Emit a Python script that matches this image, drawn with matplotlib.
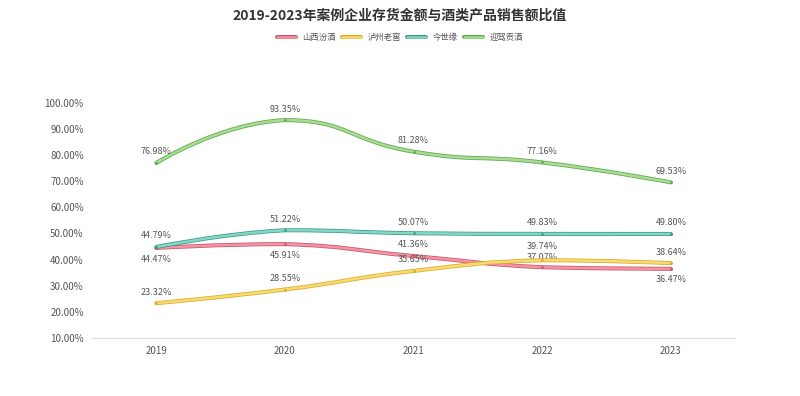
import numpy as np
import matplotlib
matplotlib.use("Agg")
import matplotlib.pyplot as plt
from matplotlib.path import Path
from matplotlib.patches import PathPatch
from matplotlib.lines import Line2D
import matplotlib.patheffects as pe

plt.rcParams['font.family'] = ['Noto Sans CJK SC', 'DejaVu Sans']

# data
years = ["2019", "2020", "2021", "2022", "2023"]
fenjiu = [44.47, 45.91, 41.36, 37.07, 36.47]       # 山西汾酒
laojiao = [23.32, 28.55, 35.65, 39.74, 38.64]      # 泸州老窖
jinshiyuan = [44.79, 51.22, 50.07, 49.83, 49.80]   # 今世缘
yingjia = [76.98, 93.35, 81.28, 77.16, 69.53]      # 迎驾贡酒
names = ["山西汾酒", "泸州老窖", "今世缘", "迎驾贡酒"]
yticks = [10, 20, 30, 40, 50, 60, 70, 80, 90, 100]

series = [fenjiu, laojiao, jinshiyuan, yingjia]
fills = ["#f294a3", "#f7da70", "#86d6c6", "#a8dc95"]
edges = ["#c9566c", "#d9ad2a", "#3a9c88", "#5fa84c"]
# label offset in points relative to the point (+ above, - below)
label_off = [
    [-8, -8, 8, 7, -8],
    [8, 8, 8, 10, 8],
    [8, 8, 8, 8, 8],
    [8, 8, 8, 8, 8],
]

fig = plt.figure(figsize=(8, 3.96), dpi=100)
ax = fig.add_axes([0.115, 0.1465, 0.804, 0.594])
x = np.arange(len(years))
ax.set_xlim(-0.5, len(years) - 0.5)
ax.set_ylim(10, 100)

# pixel scale used for echarts-like smoothing
sx, sy = 128.75, 2.61


def smooth_path(xs, ys, smooth=0.5):
    pts = np.column_stack([xs, ys]).astype(float)
    n = len(pts)
    scaled = pts * [sx, sy]
    verts = [tuple(pts[0])]
    codes = [Path.MOVETO]
    cps = []
    for i in range(n):
        if i == 0 or i == n - 1:
            cps.append((pts[i], pts[i]))
            continue
        v = (scaled[i + 1] - scaled[i - 1]) * smooth
        d0 = np.hypot(*(scaled[i] - scaled[i - 1]))
        d1 = np.hypot(*(scaled[i + 1] - scaled[i]))
        c0 = (scaled[i] - v * d0 / (d0 + d1)) / [sx, sy]
        c1 = (scaled[i] + v * d1 / (d0 + d1)) / [sx, sy]
        lo0, hi0 = sorted([pts[i - 1][1], pts[i][1]])
        lo1, hi1 = sorted([pts[i][1], pts[i + 1][1]])
        c0[1] = min(max(c0[1], lo0), hi0)
        c1[1] = min(max(c1[1], lo1), hi1)
        cps.append((c0, c1))
    for i in range(n - 1):
        verts += [tuple(cps[i][1]), tuple(cps[i + 1][0]), tuple(pts[i + 1])]
        codes += [Path.CURVE4] * 3
    return Path(verts, codes)


for vals, fc, ec, offs in zip(series, fills, edges, label_off):
    patch = PathPatch(smooth_path(x, vals), facecolor="none", edgecolor=fc,
                      lw=1.8, capstyle="round", zorder=3,
                      path_effects=[pe.Stroke(linewidth=2.9, foreground=ec), pe.Normal()])
    ax.add_patch(patch)
    ax.scatter(x, vals, s=4, color=ec, zorder=4, linewidths=0)
    for xi, v, off in zip(x, vals, offs):
        ax.annotate(f"{v:.2f}%", (xi, v), xytext=(0, off), textcoords="offset points",
                    ha="center", va="center", fontsize=6.5, color="#555555")

ax.set_xticks(x)
ax.set_xticklabels(years)
ax.set_yticks(yticks)
ax.set_yticklabels([f"{t:.2f}%" for t in yticks])
ax.tick_params(length=0, labelsize=7, colors="#555555")
ax.tick_params(axis="x", pad=6)
ax.tick_params(axis="y", pad=6)
for s in ["top", "right", "left"]:
    ax.spines[s].set_visible(False)
ax.spines["bottom"].set_color("#dddddd")

fig.text(0.5, 0.96, "2019-2023年案例企业存货金额与酒类产品销售额比值",
         ha="center", va="center", fontsize=10, fontweight="bold", color="#333333")

handles = [Line2D([], [], color=fc, lw=1.8, solid_capstyle="round",
                  path_effects=[pe.Stroke(linewidth=2.9, foreground=ec), pe.Normal()])
           for fc, ec in zip(fills, edges)]
fig.legend(handles, names, loc="center", bbox_to_anchor=(0.5, 0.905), ncol=4,
           frameon=False, fontsize=6, handlelength=2.3, handletextpad=0.8,
           columnspacing=0.7, labelcolor="#555555")

fig.savefig("out.png", dpi=100, facecolor="white")
